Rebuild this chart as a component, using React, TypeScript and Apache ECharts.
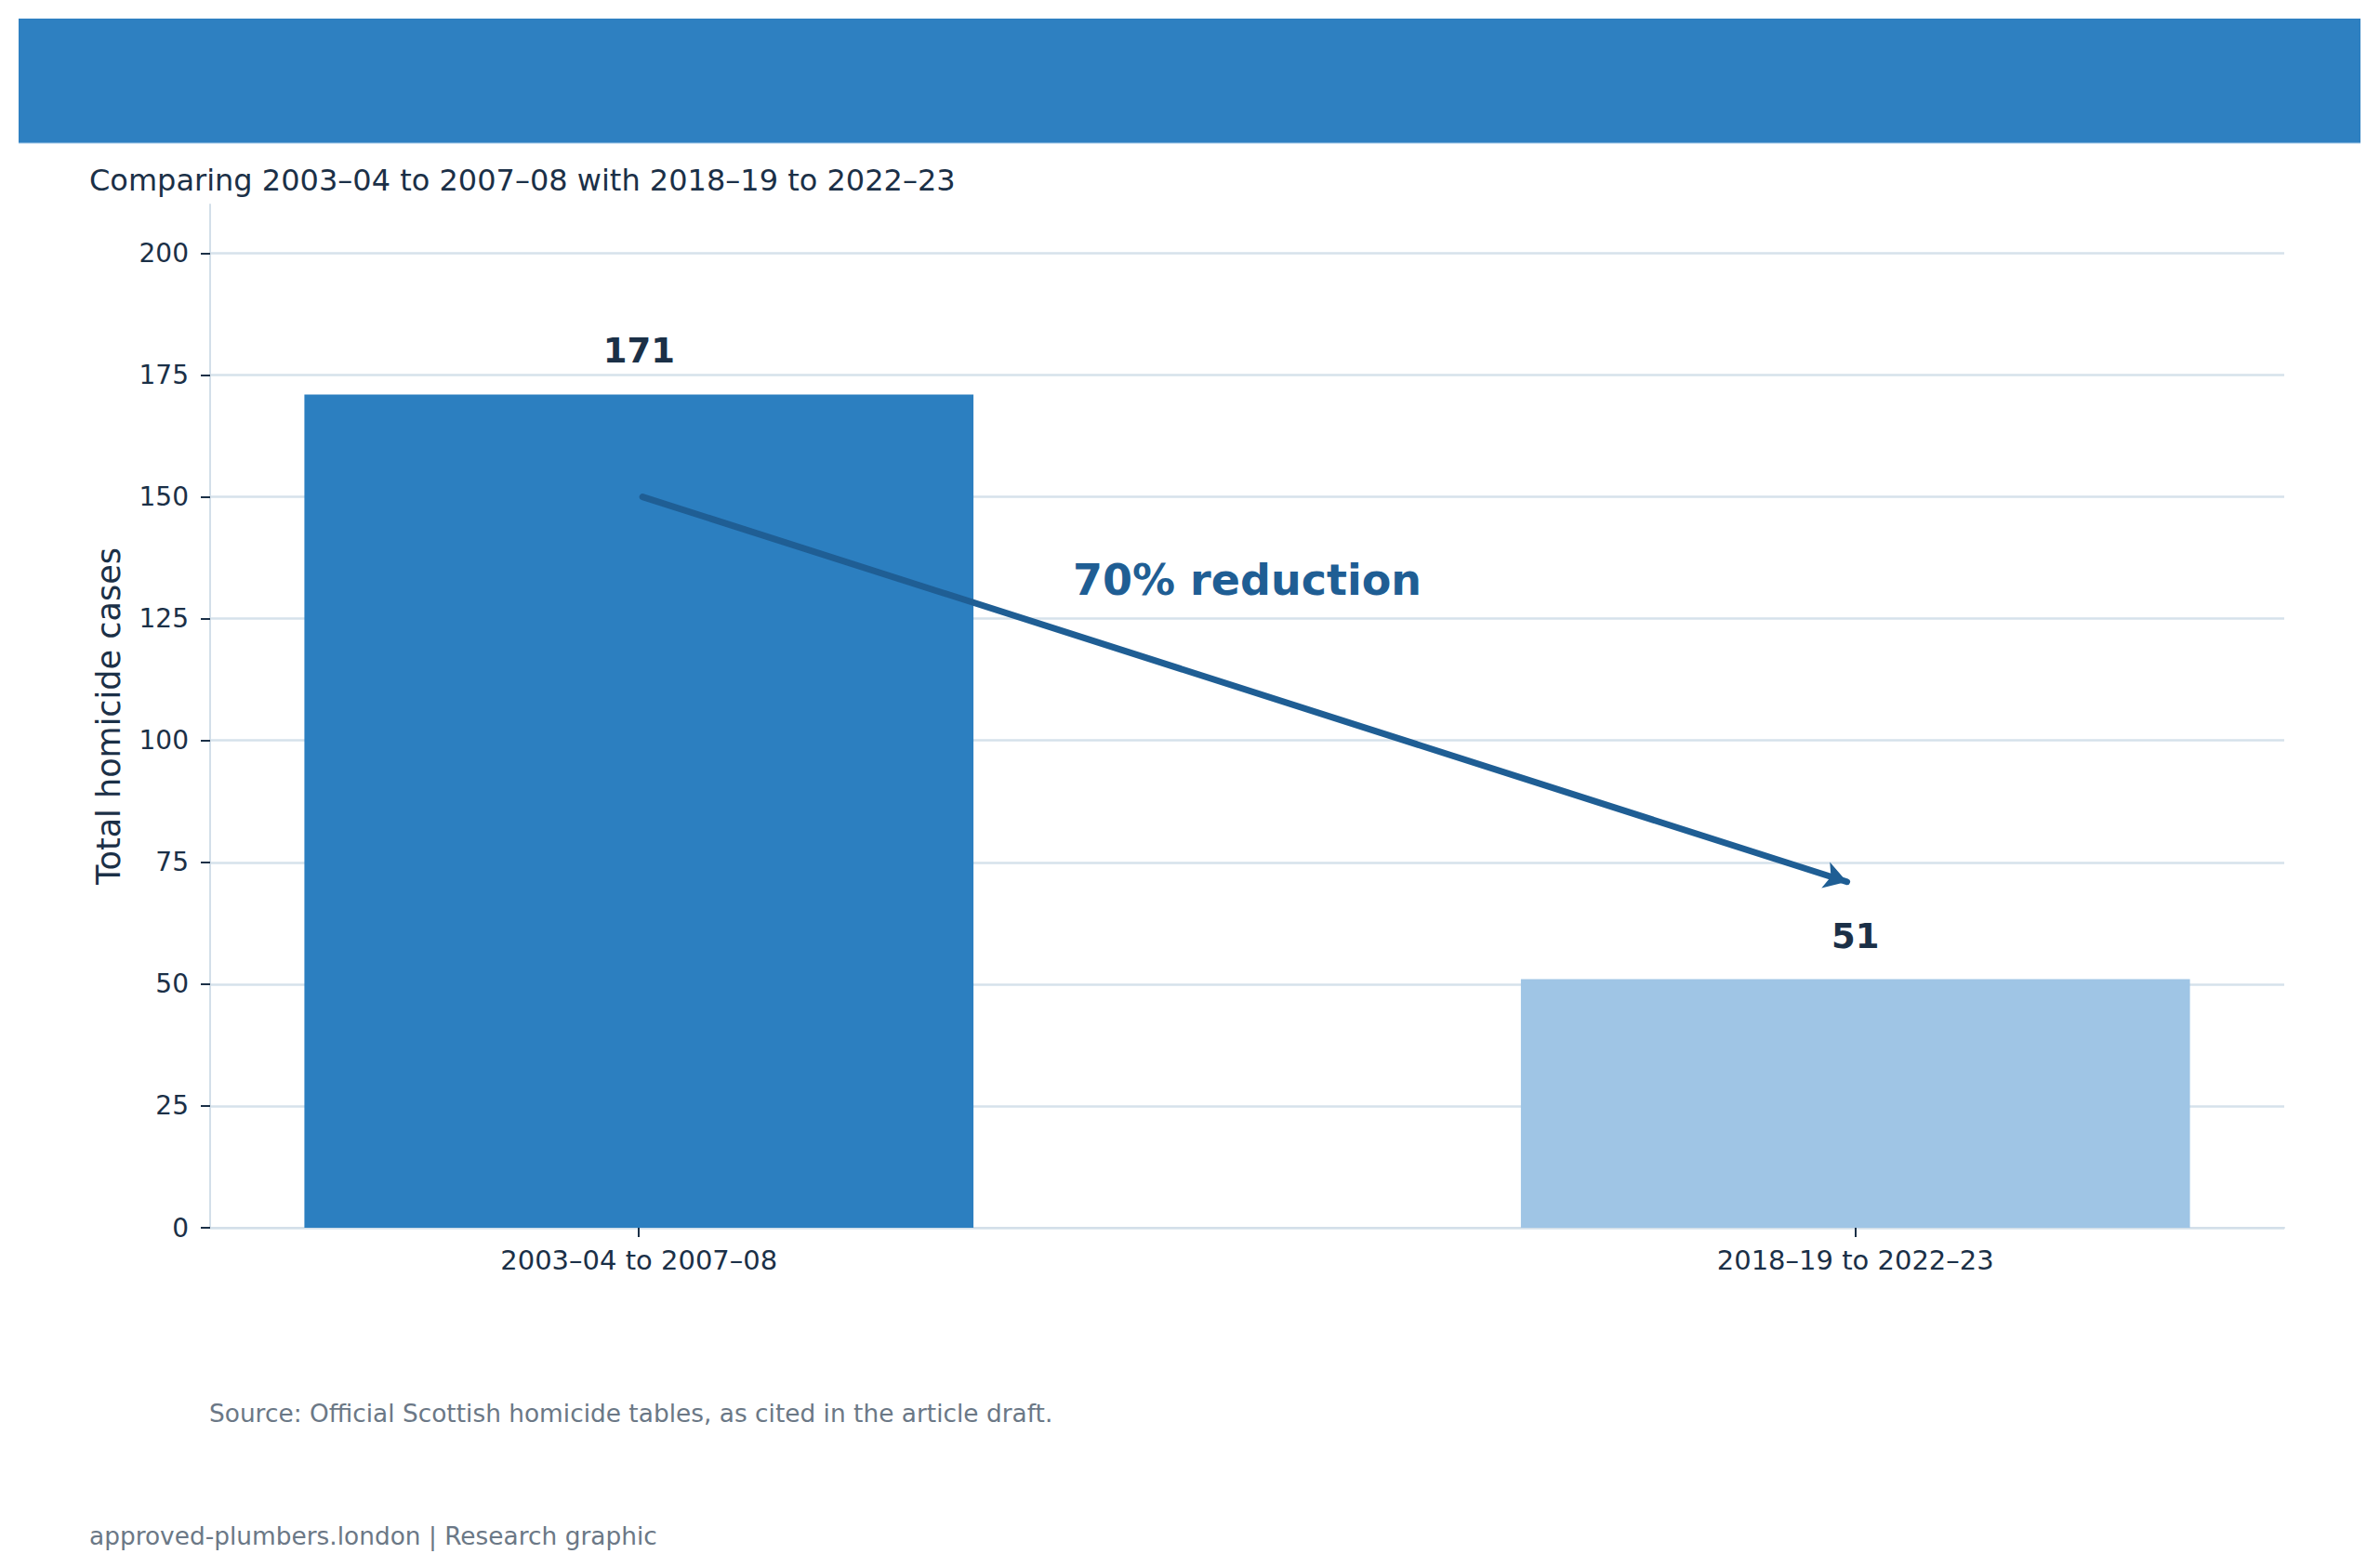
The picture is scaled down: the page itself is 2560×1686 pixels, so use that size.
import React, { useEffect, useRef } from "react";
import * as echarts from "echarts";

// ---- data ----
const categories = ["2003–04 to 2007–08", "2018–19 to 2022–23"];
const categoryPositions = [0, 1];
const totals = [171, 51];
const barColors = ["#2c7fc0", "#9fc5e5"];
const yTicks = [0, 25, 50, 75, 100, 125, 150, 175, 200];
const yMax = 210;
const xMin = -0.3525;
const xMax = 1.3525;
const barWidthUnits = 0.55;
const arrowFrom = [0.003, 150];
const arrowTo = [0.993, 71];
const reductionText = "70% reduction";
const reductionAt = [0.5, 133];

const titleText = "Comparing 2003–04 to 2007–08 with 2018–19 to 2022–23";
const yAxisTitle = "Total homicide cases";
const sourceText = "Source: Official Scottish homicide tables, as cited in the article draft.";
const footerText = "approved-plumbers.london | Research graphic";

const W = 2560;
const H = 1686;
const FONT = "DejaVu Sans";
const DARK = "#1b3047";

export default function App() {
  const ref = useRef<HTMLDivElement | null>(null);

  useEffect(() => {
    document.body.style.margin = "0";
    document.body.style.overflow = "hidden";
    if (!ref.current) return;
    const chart = echarts.init(ref.current, null, { renderer: "svg", width: W, height: H });

    const gridLeft = 226;
    const gridRight = 103;
    const gridTop = 220;
    const gridBottom = 365;
    const gridWidth = W - gridLeft - gridRight;
    const barPx = (barWidthUnits * gridWidth) / (xMax - xMin);

    const option: any = {
      animation: false,
      backgroundColor: "#ffffff",
      textStyle: { fontFamily: FONT },
      grid: { left: gridLeft, right: gridRight, top: gridTop, bottom: gridBottom, containLabel: false },
      xAxis: {
        type: "value",
        min: xMin,
        max: xMax,
        splitLine: { show: false },
        axisLine: { show: true, onZero: false, lineStyle: { color: "#d3dfe9", width: 2 } },
        axisTick: {
          show: true,
          customValues: categoryPositions,
          length: 10,
          lineStyle: { color: DARK, width: 2 },
        },
        axisLabel: {
          show: true,
          customValues: categoryPositions,
          formatter: (v: number) => {
            const i = categoryPositions.indexOf(Math.round(v));
            return i >= 0 ? categories[i] : "";
          },
          fontSize: 29,
          color: DARK,
          margin: 20,
          fontFamily: FONT,
        },
      },
      yAxis: {
        type: "value",
        min: 0,
        max: yMax,
        interval: 25,
        name: yAxisTitle,
        nameLocation: "middle",
        nameGap: 92,
        nameTextStyle: { fontSize: 35, color: DARK, fontFamily: FONT },
        axisLine: { show: true, onZero: false, lineStyle: { color: "#d3dfe9", width: 2 } },
        axisTick: {
          show: true,
          customValues: yTicks,
          length: 10,
          lineStyle: { color: DARK, width: 2 },
        },
        axisLabel: {
          show: true,
          customValues: yTicks,
          fontSize: 28,
          color: DARK,
          margin: 23,
          fontFamily: FONT,
        },
        splitLine: {
          show: true,
          lineStyle: { color: "#d6e2eb", width: 2.5 },
        },
      },
      series: [
        {
          type: "bar",
          barWidth: barPx,
          data: totals.map((v, i) => ({
            value: [categoryPositions[i], v],
            itemStyle: { color: barColors[i] },
          })),
          label: {
            show: true,
            position: "top",
            distance: 28,
            fontSize: 37,
            fontWeight: "bold",
            color: DARK,
            fontFamily: FONT,
            formatter: (p: any) => String(p.value[1]),
          },
          markLine: {
            silent: true,
            symbol: ["none", "arrow"],
            symbolSize: [22, 24],
            label: { show: false },
            lineStyle: { color: "#1f5e94", width: 7, type: "solid", cap: "round" },
            emphasis: { disabled: true },
            data: [[{ coord: arrowFrom }, { coord: arrowTo }]],
          },
          markPoint: {
            silent: true,
            symbol: "circle",
            symbolSize: 0,
            data: [
              {
                coord: reductionAt,
                label: {
                  show: true,
                  position: "inside",
                  formatter: reductionText,
                  fontSize: 46,
                  fontWeight: "bold",
                  color: "#1f5e94",
                  fontFamily: FONT,
                },
              },
            ],
          },
        },
      ],
      graphic: [
        {
          type: "rect",
          shape: { x: 20, y: 20, width: 2519, height: 134 },
          style: { fill: "#2e80c1" },
          silent: true,
        },
        {
          type: "line",
          shape: { x1: 20, y1: 154, x2: 2539, y2: 154 },
          style: { stroke: "#a8cbe9", lineWidth: 1 },
          silent: true,
        },
        {
          type: "text",
          style: {
            text: titleText,
            x: 96,
            y: 194,
            fontSize: 32,
            fontFamily: FONT,
            fill: DARK,
            textAlign: "left",
            textVerticalAlign: "middle",
            align: "left",
            verticalAlign: "middle",
          },
        },
        {
          type: "text",
          style: {
            text: sourceText,
            x: 225,
            y: 1520,
            fontSize: 26.4,
            fontFamily: FONT,
            fill: "#6b7886",
            textAlign: "left",
            textVerticalAlign: "middle",
            align: "left",
            verticalAlign: "middle",
          },
        },
        {
          type: "text",
          style: {
            text: footerText,
            x: 96,
            y: 1652,
            fontSize: 26.4,
            fontFamily: FONT,
            fill: "#6b7886",
            textAlign: "left",
            textVerticalAlign: "middle",
            align: "left",
            verticalAlign: "middle",
          },
        },
      ],
    };

    chart.setOption(option);
    return () => {
      chart.dispose();
    };
  }, []);

  return <div ref={ref} style={{ width: W, height: H }} />;
}
